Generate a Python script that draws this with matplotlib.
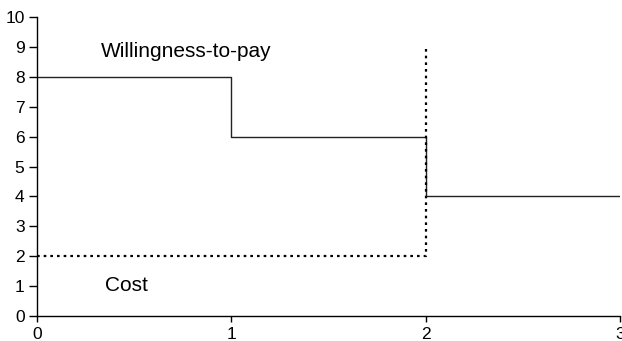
import matplotlib.pyplot as plt

plt.rcParams['font.family'] = ['Liberation Sans', 'DejaVu Sans']

# willingness-to-pay steps (value holds until next x)
wtp_x = [0, 1, 2, 3]
wtp_y = [8, 6, 4, 4]

# cost: flat at 2 up to quantity 2, then vertical
cost_x = [0, 2, 2]
cost_y = [2, 2, 9]

x_ticks = [0, 1, 2, 3]
y_ticks = list(range(0, 11))

fig = plt.figure(figsize=(6.22, 3.41), dpi=100)
ax = fig.add_axes([0.0595, 0.0733, 0.9373, 0.8767])

ax.step(wtp_x, wtp_y, where='post', color='#222222', lw=1.0)
ax.plot(cost_x, cost_y, color='black', lw=1.6, linestyle=(0, (1.2, 1.8)),
        dash_capstyle='butt')

ax.text(0.33, 8.67, 'Willingness-to-pay', fontsize=15, va='baseline', ha='left')
ax.text(0.35, 0.85, 'Cost', fontsize=15, va='baseline', ha='left')

ax.set_xlim(0, 3)
ax.set_ylim(0, 10)
ax.set_xticks(x_ticks)
ax.set_yticks(y_ticks)
ax.tick_params(axis='both', labelsize=12.5, direction='out', length=4, width=1)
ax.tick_params(axis='y', length=6, pad=3)
ax.tick_params(axis='x', pad=4)
for s in ['top', 'right']:
    ax.spines[s].set_visible(False)
for s in ['left', 'bottom']:
    ax.spines[s].set_linewidth(1.0)

fig.savefig('out.png', dpi=100)
